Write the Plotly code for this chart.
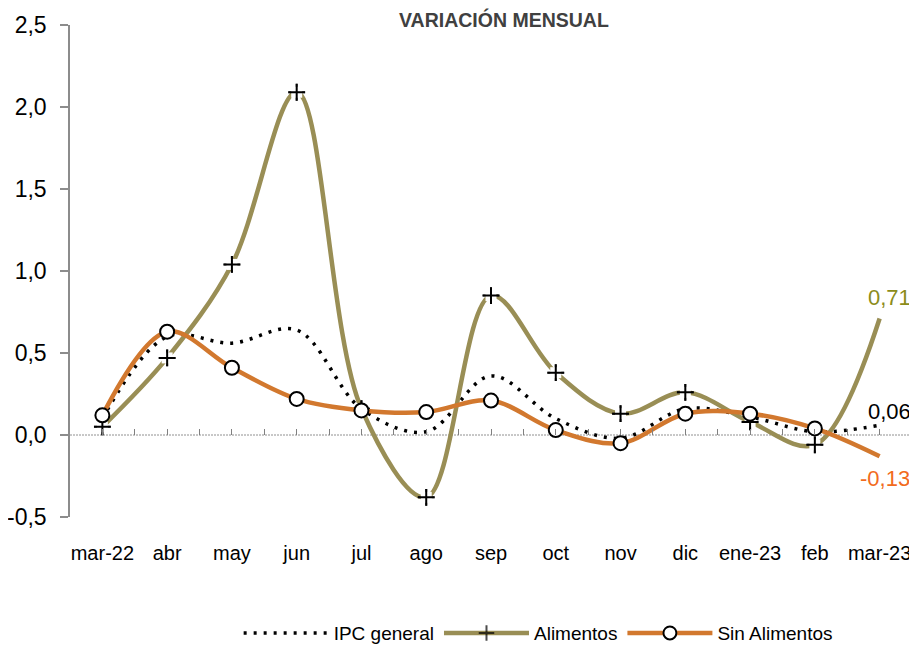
import plotly.graph_objects as go

categories = ["mar-22", "abr", "may", "jun", "jul", "ago", "sep", "oct", "nov", "dic", "ene-23", "feb", "mar-23"]
ipc_general = [0.10, 0.60, 0.56, 0.64, 0.16, 0.02, 0.36, 0.10, -0.02, 0.16, 0.11, 0.02, 0.06]
alimentos = [0.05, 0.47, 1.04, 2.09, 0.16, -0.38, 0.85, 0.38, 0.13, 0.26, 0.08, -0.06, 0.71]
sin_alimentos = [0.12, 0.63, 0.41, 0.22, 0.15, 0.14, 0.21, 0.03, -0.05, 0.13, 0.13, 0.04, -0.13]
y_ticks = [-0.5, 0.0, 0.5, 1.0, 1.5, 2.0, 2.5]
y_tick_labels = ["-0,5", "0,0", "0,5", "1,0", "1,5", "2,0", "2,5"]

FONT = "Liberation Sans Narrow, Arial Narrow, Liberation Sans, Arial, sans-serif"
OLIVE = "#998E55"
ORANGE = "#D2782E"
n = len(categories)
idx = list(range(n))

def fmt(v):
    return f"{v:.2f}".replace(".", ",")

fig = go.Figure()

# IPC general
fig.add_trace(go.Scatter(
    x=idx, y=ipc_general, name="IPC general", mode="lines",
    line=dict(color="black", width=3.5, dash="3px,7px", shape="spline", smoothing=1.0),
))

# Alimentos
fig.add_trace(go.Scatter(
    x=idx, y=alimentos, name="Alimentos", mode="lines+markers",
    line=dict(color=OLIVE, width=4.5, shape="spline", smoothing=1.0),
    marker=dict(symbol="cross-thin", size=[12] * (n - 1) + [0], color="black",
                line=dict(color="black", width=2)),
))
fig.add_trace(go.Scatter(
    x=idx[:-1], y=alimentos[:-1], mode="markers", showlegend=False, hoverinfo="skip",
    marker=dict(symbol="square", size=11, color="white", line=dict(width=0)),
))
fig.add_trace(go.Scatter(
    x=idx[:-1], y=alimentos[:-1], mode="markers", showlegend=False, hoverinfo="skip",
    marker=dict(symbol="cross-thin", size=12, color="black", line=dict(color="black", width=2)),
))

# Sin Alimentos
fig.add_trace(go.Scatter(
    x=idx, y=sin_alimentos, name="Sin Alimentos", mode="lines+markers",
    line=dict(color=ORANGE, width=4.5, shape="spline", smoothing=1.0),
    marker=dict(symbol="circle", size=[14] * (n - 1) + [0], color="#FFFFFF", opacity=1,
                line=dict(color="black", width=2)),
))

# zero line (dotted)
fig.add_shape(type="line", xref="paper", x0=0, x1=1, yref="y", y0=0, y1=0,
              line=dict(color="#909090", width=1, dash="2px,1px"), layer="below")

# end labels
fig.add_annotation(x=n - 1, y=alimentos[-1], text=fmt(alimentos[-1]), showarrow=False,
                   xanchor="right", xshift=33, yshift=21, font=dict(family=FONT, size=22, color="#8C8C1A"))
fig.add_annotation(x=n - 1, y=ipc_general[-1], text=fmt(ipc_general[-1]), showarrow=False,
                   xanchor="right", xshift=33, yshift=14, font=dict(family=FONT, size=22, color="black"))
fig.add_annotation(x=n - 1, y=sin_alimentos[-1], text=fmt(sin_alimentos[-1]), showarrow=False,
                   xanchor="right", xshift=32, yshift=-22, font=dict(family=FONT, size=22, color="#F26B1D"))

# title
fig.add_annotation(xref="paper", yref="paper", x=0.5154, y=1.0102, xanchor="center", yanchor="middle",
                   text="<b>VARIACIÓN MENSUAL</b>", showarrow=False,
                   font=dict(family=FONT, size=19.5, color="#404040"))

fig.update_layout(
    width=909, height=637,
    margin=dict(l=62, r=5, t=17, b=128, autoexpand=False),
    paper_bgcolor="white", plot_bgcolor="white",
    separators=",.",
    font=dict(family=FONT, size=20, color="black"),
    showlegend=True,
    legend=dict(orientation="h", x=0.556, xanchor="center", y=-0.236, yanchor="middle",
                font=dict(family=FONT, size=19, color="black"), itemwidth=85,
                bgcolor="rgba(0,0,0,0)"),
    xaxis=dict(
        range=[-0.5, n - 0.5], tickmode="array", tickvals=idx, ticktext=categories,
        showline=False, showgrid=False, zeroline=False, ticks="", automargin=False,
        ticklabelstandoff=22, tickfont=dict(family=FONT, size=20),
    ),
    xaxis2=dict(
        overlaying="x", anchor="free", position=(0 - y_ticks[0]) / (y_ticks[-1] - y_ticks[0]),
        range=[-0.5, n - 0.5], tickmode="linear", tick0=-0.5, dtick=0.5,
        showticklabels=False, ticks="inside", ticklen=6, tickcolor="#808080", tickwidth=1,
        showline=False, showgrid=False, zeroline=False, automargin=False,
    ),
    yaxis=dict(
        range=[y_ticks[0], y_ticks[-1]], tickmode="array", tickvals=y_ticks, ticktext=y_tick_labels,
        showline=True, linecolor="#8C8C8C", linewidth=1.5,
        ticks="outside", ticklen=8, tickcolor="#8C8C8C", tickwidth=1.5,
        showgrid=False, zeroline=False, ticklabelstandoff=9, automargin=False,
        tickfont=dict(family=FONT, size=23),
    ),
)

# dummy trace for xaxis2 so it renders
fig.add_trace(go.Scatter(x=[None], y=[None], xaxis="x2", showlegend=False, hoverinfo="skip"))

fig.write_html("out.html")
